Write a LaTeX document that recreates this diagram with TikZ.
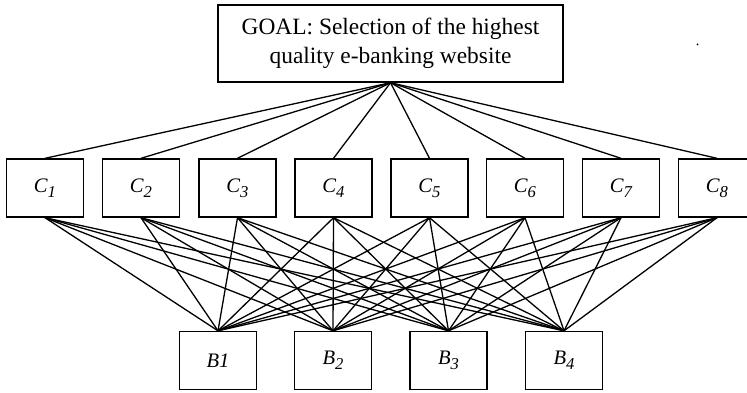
\documentclass[tikz,border=0pt]{standalone}
\usepackage{fontspec}
\setmainfont{Liberation Serif}
\newcommand{\sbs}[1]{\raisebox{-2.6pt}{\fontsize{8.3}{8.3}\selectfont #1}}
\begin{document}
\begin{tikzpicture}[x=0.5pt,y=-0.5pt,
  box/.style={draw, line width=0.7pt, inner sep=0pt, minimum width=38.5pt, minimum height=29pt, font=\fontsize{10.3}{12}\selectfont\itshape},
  goalbox/.style={draw, line width=0.7pt, inner sep=0pt, minimum width=172.5pt, minimum height=38.5pt, align=center, font=\fontsize{11.7}{14.5}\selectfont},
  link/.style={line width=0.65pt}]
\useasboundingbox (0,0) rectangle (747,392);
\clip (0,0) rectangle (747,392);
\node[goalbox] (g) at (390.5,43.5) {GOAL: Selection of the highest\\quality e-banking website};
\foreach \i/\x in {1/45,2/141,3/237.5,4/333.5,5/429.5,6/525,7/621,8/717}
  \node[box] (c\i) at (\x,188) {C\sbs{\i}};
\node[box] (b1) at (218,360.5) {B1};
\node[box] (b2) at (333,360.5) {B\sbs{2}};
\node[box] (b3) at (448.5,360.5) {B\sbs{3}};
\node[box] (b4) at (564,360.5) {B\sbs{4}};
\foreach \i in {1,...,8} {
  \draw[link] (g.south) -- (c\i.north);
  \foreach \j in {1,...,4}
    \draw[link] (c\i.south) -- (b\j.north);
}
\fill (697.5,44.3) circle (0.5pt);
\end{tikzpicture}
\end{document}
